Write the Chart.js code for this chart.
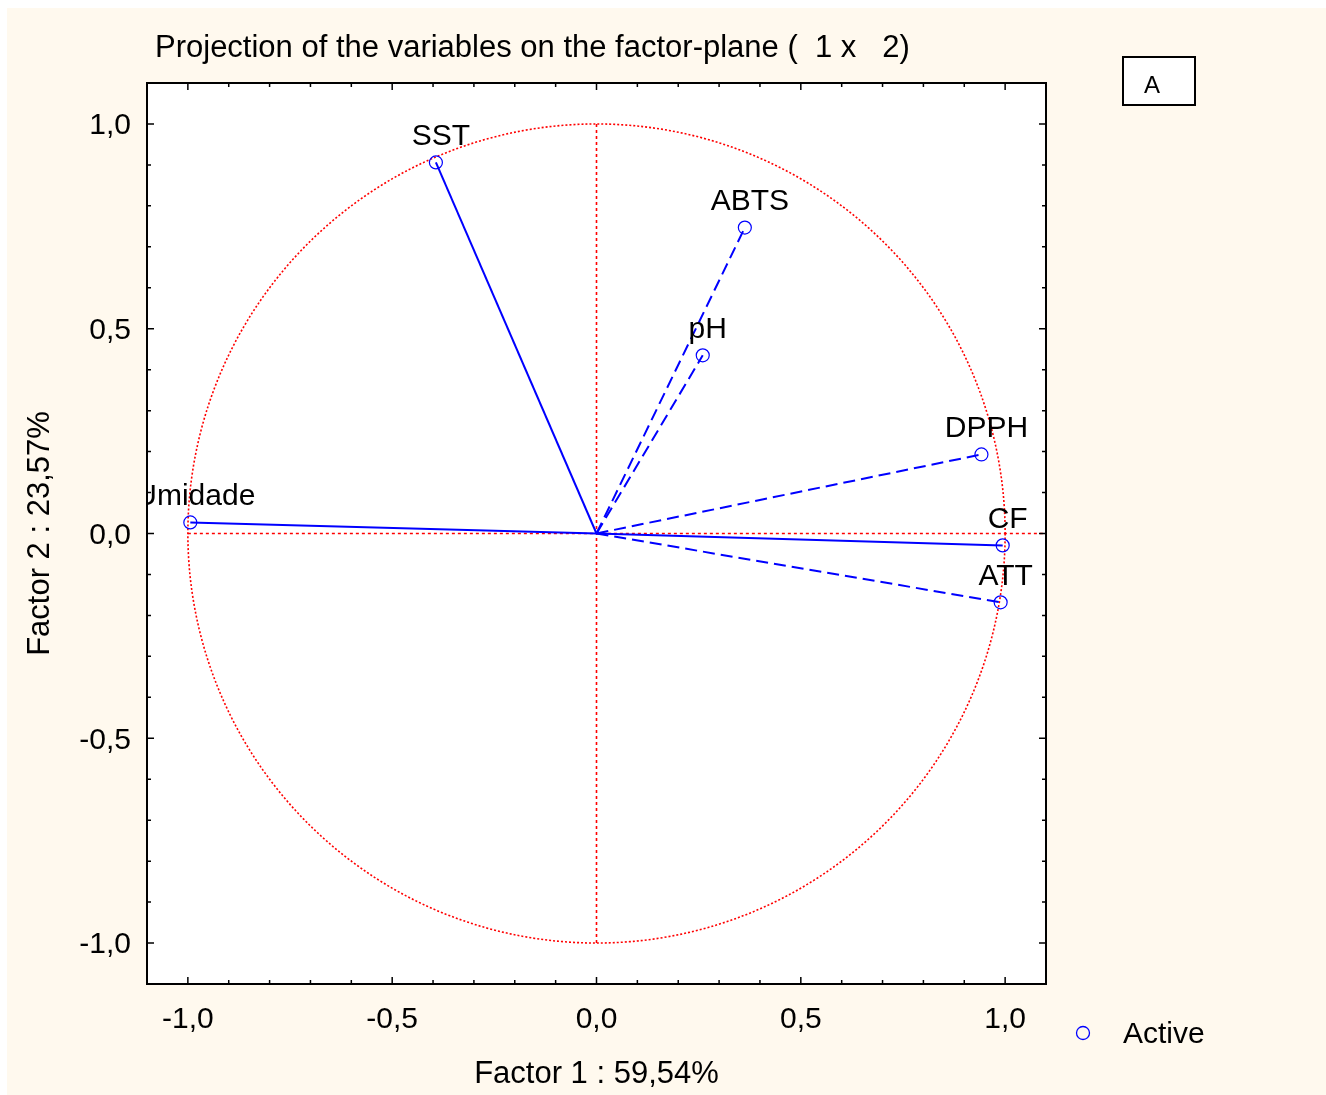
<!DOCTYPE html>
<html>
<head>
<meta charset="utf-8">
<script src="https://cdn.jsdelivr.net/npm/chart.js@4.4.1/dist/chart.umd.min.js"></script>
<style>
  html, body { margin: 0; padding: 0; background: #ffffff; }
  #wrap { position: relative; width: 1326px; height: 1095px; overflow: hidden; }
  canvas { display: block; }
</style>
</head>
<body>
<div id="wrap"><canvas id="c" width="1326" height="1095"></canvas></div>
<script>
// ---- data ----
const variables = ['SST', 'ABTS', 'pH', 'DPPH', 'CF', 'ATT', 'Umidade'];
const factor1 = [-0.393, 0.363, 0.260, 0.942, 0.994, 0.989, -0.994];
const factor2 = [0.906, 0.747, 0.435, 0.193, -0.029, -0.168, 0.027];
const tickValues = [-1.0, -0.5, 0.0, 0.5, 1.0];
const axisMin = -1.1;
const axisMax = 1.1;
const titleText = 'Projection of the variables on the factor-plane (  1 x   2)';
const xTitle = 'Factor 1 : 59,54%';
const yTitle = 'Factor 2 : 23,57%';
const legendLabel = 'Active';
const panelLabel = 'A';
const dashedVariables = ['ABTS', 'pH', 'DPPH', 'ATT'];

// ---- styling ----
const FONT = '"Liberation Sans", Arial, sans-serif';
const BLUE = '#0000ff';
const RED = '#ff0000';
const CREAM = '#fff9ee';

const fmt = v => v.toFixed(1).replace('.', ',');

const datasets = variables.map((name, i) => ({
  label: name,
  data: [{ x: 0, y: 0 }, { x: factor1[i], y: factor2[i] }],
  borderColor: BLUE,
  borderWidth: 2,
  borderDash: dashedVariables.includes(name) ? [12, 6] : [],
  pointRadius: [0, 6.5],
  pointHoverRadius: [0, 6.5],
  pointBorderColor: BLUE,
  pointBorderWidth: 1.2,
  pointBackgroundColor: 'rgba(0,0,0,0)',
  showLine: true,
  fill: false,
  tension: 0
}));

const decorPlugin = {
  id: 'decor',
  beforeDraw(chart) {
    const ctx = chart.ctx;
    const { left, right, top, bottom } = chart.chartArea;
    ctx.save();
    ctx.fillStyle = '#ffffff';
    ctx.fillRect(0, 0, chart.width, chart.height);
    ctx.fillStyle = CREAM;
    ctx.fillRect(7, 8, chart.width - 7, chart.height - 8);
    ctx.fillStyle = '#ffffff';
    ctx.fillRect(left, top, right - left, bottom - top);
    ctx.restore();
  },
  beforeDatasetsDraw(chart) {
    const ctx = chart.ctx;
    const xs = chart.scales.x, ys = chart.scales.y;
    const cx = xs.getPixelForValue(0), cy = ys.getPixelForValue(0);
    const rx = xs.getPixelForValue(1) - cx;
    const ry = cy - ys.getPixelForValue(1);
    ctx.save();
    ctx.strokeStyle = RED;
    ctx.lineWidth = 1.6;
    ctx.setLineDash([2, 2]);
    ctx.beginPath();
    ctx.ellipse(cx, cy, rx, ry, 0, 0, Math.PI * 2);
    ctx.stroke();
    ctx.setLineDash([3, 3]);
    ctx.beginPath();
    ctx.moveTo(xs.getPixelForValue(-1), cy);
    ctx.lineTo(xs.getPixelForValue(1.1), cy);
    ctx.moveTo(cx, ys.getPixelForValue(1));
    ctx.lineTo(cx, ys.getPixelForValue(-1));
    ctx.stroke();
    ctx.restore();
  },
  afterDatasetsDraw(chart) {
    const ctx = chart.ctx;
    const xs = chart.scales.x, ys = chart.scales.y;
    const { left, right, top, bottom } = chart.chartArea;
    // point labels, clipped to plot area
    ctx.save();
    ctx.beginPath();
    ctx.rect(left, top, right - left, bottom - top);
    ctx.clip();
    ctx.fillStyle = '#000000';
    ctx.font = '30px ' + FONT;
    ctx.textAlign = 'center';
    ctx.textBaseline = 'middle';
    variables.forEach((name, i) => {
      const px = xs.getPixelForValue(factor1[i]);
      const py = ys.getPixelForValue(factor2[i]);
      ctx.fillText(name, px + 5, py - 26);
    });
    ctx.restore();

    // frame
    ctx.save();
    ctx.strokeStyle = '#000000';
    ctx.lineWidth = 2;
    ctx.strokeRect(left, top, right - left, bottom - top);
    // inward ticks every 0.1
    ctx.lineWidth = 1.5;
    ctx.beginPath();
    for (let k = -11; k <= 11; k++) {
      const v = k / 10;
      const major = k % 5 === 0;
      const len = major ? 7 : 4;
      const px = xs.getPixelForValue(v);
      const py = ys.getPixelForValue(v);
      ctx.moveTo(px, bottom); ctx.lineTo(px, bottom - len);
      ctx.moveTo(px, top); ctx.lineTo(px, top + len);
      ctx.moveTo(left, py); ctx.lineTo(left + len, py);
      ctx.moveTo(right, py); ctx.lineTo(right - len, py);
    }
    ctx.stroke();
    ctx.restore();

    // titles
    ctx.save();
    ctx.fillStyle = '#000000';
    ctx.font = '31px ' + FONT;
    ctx.textBaseline = 'middle';
    ctx.textAlign = 'left';
    ctx.fillText(titleText, 155, 48);
    ctx.textAlign = 'center';
    ctx.fillText(xTitle, (left + right) / 2, 1074);
    ctx.translate(40, (top + bottom) / 2);
    ctx.rotate(-Math.PI / 2);
    ctx.fillText(yTitle, 0, 0);
    ctx.restore();

    // panel label box
    ctx.save();
    ctx.fillStyle = '#ffffff';
    ctx.fillRect(1123, 57, 72, 48);
    ctx.strokeStyle = '#000000';
    ctx.lineWidth = 2;
    ctx.strokeRect(1123, 57, 72, 48);
    ctx.fillStyle = '#000000';
    ctx.font = '24px ' + FONT;
    ctx.textAlign = 'center';
    ctx.textBaseline = 'middle';
    ctx.fillText(panelLabel, 1152, 86);
    ctx.restore();

    // legend
    ctx.save();
    ctx.strokeStyle = BLUE;
    ctx.lineWidth = 1.3;
    ctx.beginPath();
    ctx.arc(1083, 1033, 6.5, 0, Math.PI * 2);
    ctx.stroke();
    ctx.fillStyle = '#000000';
    ctx.font = '30px ' + FONT;
    ctx.textAlign = 'left';
    ctx.textBaseline = 'middle';
    ctx.fillText(legendLabel, 1123, 1035);
    ctx.restore();
  }
};

new Chart(document.getElementById('c'), {
  type: 'scatter',
  data: { datasets },
  options: {
    responsive: false,
    animation: false,
    events: [],
    layout: { padding: { left: 0, right: 280, top: 83, bottom: 0 } },
    plugins: { legend: { display: false }, title: { display: false }, tooltip: { enabled: false } },
    scales: {
      x: {
        type: 'linear', min: axisMin, max: axisMax,
        afterBuildTicks: s => { s.ticks = tickValues.map(v => ({ value: v })); },
        afterFit: s => { s.height = 111; },
        grid: { display: false, drawTicks: false },
        border: { display: false },
        ticks: { color: '#000', font: { family: FONT, size: 30 }, padding: 18, callback: v => fmt(v), maxRotation: 0, autoSkip: false }
      },
      y: {
        type: 'linear', min: axisMin, max: axisMax,
        afterBuildTicks: s => { s.ticks = tickValues.map(v => ({ value: v })); },
        afterFit: s => { s.width = 147; },
        grid: { display: false, drawTicks: false },
        border: { display: false },
        ticks: { color: '#000', font: { family: FONT, size: 30 }, padding: 16, labelOffset: 2, callback: v => fmt(v), autoSkip: false }
      }
    }
  },
  plugins: [decorPlugin]
});
</script>
</body>
</html>
